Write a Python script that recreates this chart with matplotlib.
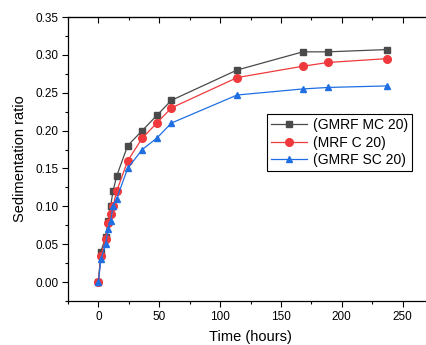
import matplotlib
matplotlib.use("Agg")
import matplotlib.pyplot as plt
from matplotlib.ticker import MultipleLocator

plt.rcParams["font.family"] = ["Liberation Sans", "DejaVu Sans"]

# sampling times (hours)
hours = [0, 2, 6, 8, 10, 12, 15, 24, 36, 48, 60, 114, 168, 189, 237]

# sedimentation ratio per fluid
gmrf_mc = [0.0, 0.040, 0.060, 0.080, 0.100, 0.120, 0.140, 0.180, 0.200,
           0.220, 0.240, 0.280, 0.304, 0.304, 0.307]
mrf_c = [0.0, 0.035, 0.057, 0.078, 0.090, 0.100, 0.120, 0.160, 0.190,
         0.210, 0.230, 0.270, 0.285, 0.290, 0.295]
gmrf_sc = [0.0, 0.030, 0.050, 0.070, 0.080, 0.100, 0.110, 0.150, 0.175,
           0.190, 0.210, 0.247, 0.255, 0.257, 0.259]

labels = ["(GMRF MC 20)", "(MRF C 20)", "(GMRF SC 20)"]
colors = ["#4a4a4a", "#f0393c", "#1f6fe3"]
markers = ["s", "o", "^"]

fig = plt.figure(figsize=(4.26, 3.45), dpi=100)
ax = fig.add_axes([68 / 426, 44 / 345, 365 / 426, 284 / 345])

for ys, lab, c, m in zip([gmrf_mc, mrf_c, gmrf_sc], labels, colors, markers):
    ax.plot(hours, ys, color=c, marker=m, markersize=5 if m != "o" else 5.5,
            linewidth=0.9, label=lab)

ax.set_xlim(-25, 275)
ax.set_ylim(-0.025, 0.35)
ax.xaxis.set_major_locator(MultipleLocator(50))
ax.xaxis.set_minor_locator(MultipleLocator(25))
ax.yaxis.set_major_locator(MultipleLocator(0.05))
ax.yaxis.set_minor_locator(MultipleLocator(0.025))
ax.yaxis.set_major_formatter(plt.FormatStrFormatter("%.2f"))
ax.set_xticks([0, 50, 100, 150, 200, 250])

ax.tick_params(which="major", direction="out", length=4, width=0.8,
               labelsize=8.5, pad=3)
ax.tick_params(which="minor", direction="out", length=2.2, width=0.8)

top = ax.secondary_xaxis("top")
top.xaxis.set_major_locator(MultipleLocator(50))
top.xaxis.set_minor_locator(MultipleLocator(25))
top.tick_params(which="major", direction="in", length=4, width=0.8,
                labeltop=False)
top.tick_params(which="minor", direction="in", length=2.2, width=0.8)

for s in ax.spines.values():
    s.set_linewidth(0.9)

ax.set_xlabel("Time (hours)", fontsize=10.5, labelpad=5)
ax.set_ylabel("Sedimentation ratio", fontsize=10.5, labelpad=6)

leg = ax.legend(loc="upper left", bbox_to_anchor=(267 / 426, 1 - 114 / 345),
                bbox_transform=fig.transFigure, fontsize=10, frameon=True,
                fancybox=False, edgecolor="black", framealpha=1,
                handlelength=2.6, handletextpad=0.4, borderpad=0.3,
                labelspacing=0.25, borderaxespad=0)
leg.get_frame().set_linewidth(0.8)

fig.savefig("out.png", dpi=100)
